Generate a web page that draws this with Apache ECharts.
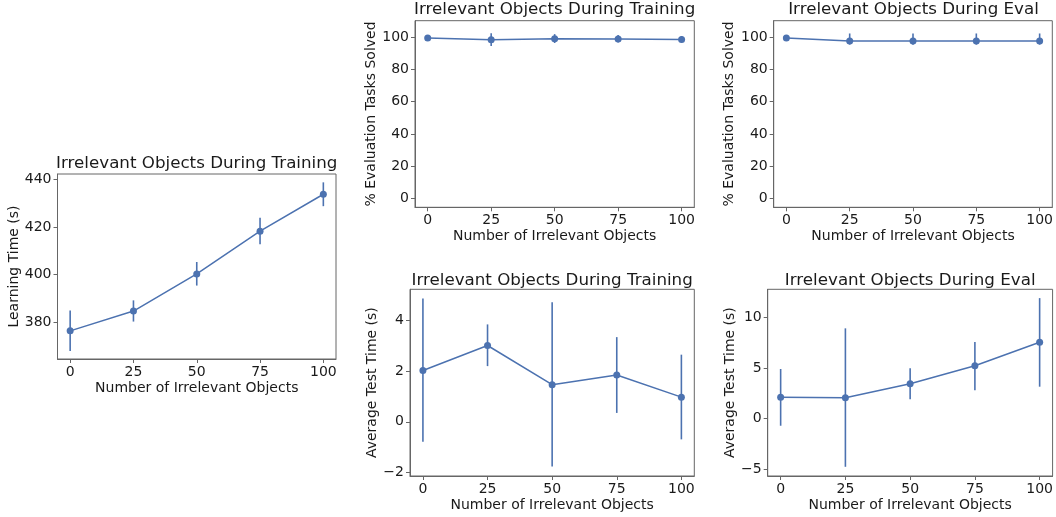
<!DOCTYPE html>
<html><head><meta charset="utf-8">
<script src="https://cdn.jsdelivr.net/npm/echarts@6/dist/echarts.min.js"></script>
<style>html,body{margin:0;padding:0;background:#fff}#c{width:1056px;height:517px}</style>
</head><body><div id="c"></div>
<script>
const xVals = [0, 25, 50, 75, 100];
const xTicks = [0, 25, 50, 75, 100];

const learnMean = [376.4, 384.7, 400.3, 418.2, 433.7];
const learnLo   = [368.0, 380.3, 395.4, 412.7, 428.7];
const learnHi   = [384.9, 389.2, 405.3, 423.8, 438.7];

const solvedTrainMean = [99.4, 98.3, 98.9, 98.8, 98.5];
const solvedTrainLo   = [98.7, 94.4, 96.3, 96.6, 96.7];
const solvedTrainHi   = [100.1, 102.3, 101.8, 101.2, 100.6];

const solvedEvalMean = [99.4, 97.6, 97.6, 97.6, 97.6];
const solvedEvalLo   = [98.7, 95.3, 95.3, 95.3, 95.3];
const solvedEvalHi   = [100.1, 102.2, 102.2, 102.2, 102.2];

const testTrainMean = [2.02, 3.0, 1.46, 1.84, 0.97];
const testTrainLo   = [-0.78, 2.19, -1.76, 0.35, -0.69];
const testTrainHi   = [4.85, 3.83, 4.7, 3.33, 2.64];

const testEvalMean = [2.09, 2.05, 3.43, 5.21, 7.53];
const testEvalLo   = [-0.72, -4.78, 1.89, 2.78, 3.14];
const testEvalHi   = [4.89, 8.91, 4.96, 7.57, 11.9];

const titles = ['Irrelevant Objects During Training', 'Irrelevant Objects During Training',
  'Irrelevant Objects During Eval', 'Irrelevant Objects During Training', 'Irrelevant Objects During Eval'];
const yNames = ['Learning Time (s)', '% Evaluation Tasks Solved', '% Evaluation Tasks Solved',
  'Average Test Time (s)', 'Average Test Time (s)'];
const xName = 'Number of Irrelevant Objects';
const yTicks = [[380, 400, 420, 440], [0, 20, 40, 60, 80, 100], [0, 20, 40, 60, 80, 100],
  [-2, 0, 2, 4], [-5, 0, 5, 10]];
const yRanges = [[364.6, 442.2], [-5.3, 110.1], [-5.3, 110.1], [-2.13, 5.21], [-5.69, 12.77]];

const panels = [
  {mean: learnMean, lo: learnLo, hi: learnHi},
  {mean: solvedTrainMean, lo: solvedTrainLo, hi: solvedTrainHi},
  {mean: solvedEvalMean, lo: solvedEvalLo, hi: solvedEvalHi},
  {mean: testTrainMean, lo: testTrainLo, hi: testTrainHi},
  {mean: testEvalMean, lo: testEvalLo, hi: testEvalHi}
];

// layout
const grids = [
  {left: 57.5, top: 174, width: 278.5, height: 185},
  {left: 415, top: 20.7, width: 279.3, height: 186.6},
  {left: 773.7, top: 20.7, width: 279.6, height: 186.6},
  {left: 410, top: 289.3, width: 284.3, height: 186.7},
  {left: 767.7, top: 289.3, width: 285, height: 186.7}
];
const yGaps = [36, 36, 37, 30.5, 30.5];
const titleTops = [155, 1.5, 1.5, 272, 272];

const FONT = 'DejaVu Sans';
const TXT = '#1a1a1a';
const AX = '#666666';
const BLUE = '#4c72b0';
const fmt = v => String(v).replace('-', '\u2212');

const option = {
  animation: false,
  backgroundColor: '#fff',
  textStyle: {fontFamily: FONT},
  title: grids.map((g, i) => ({
    text: titles[i], left: g.left + g.width / 2, top: titleTops[i], textAlign: 'center', padding: 0,
    textStyle: {fontFamily: FONT, fontSize: 16.7, fontWeight: 'normal', color: TXT}
  })),
  grid: grids.map(g => Object.assign({show: true, borderColor: AX, borderWidth: 1, backgroundColor: 'transparent', containLabel: false}, g)),
  xAxis: grids.map((g, i) => ({
    type: 'value', gridIndex: i, min: -5, max: 105,
    name: xName, nameLocation: 'middle', nameGap: 22,
    nameTextStyle: {fontFamily: FONT, fontSize: 14, color: TXT},
    axisLine: {show: true, onZero: false, lineStyle: {color: AX, width: 1}},
    axisTick: {show: true, length: 4, lineStyle: {color: AX}, customValues: xTicks},
    axisLabel: {fontFamily: FONT, fontSize: 14, color: TXT, margin: 6, customValues: xTicks, formatter: fmt},
    splitLine: {show: false}
  })),
  yAxis: grids.map((g, i) => ({
    type: 'value', gridIndex: i, min: yRanges[i][0], max: yRanges[i][1],
    name: yNames[i], nameLocation: 'middle', nameGap: yGaps[i], nameRotate: 90,
    nameTextStyle: {fontFamily: FONT, fontSize: 14, color: TXT, verticalAlign: 'bottom'},
    axisLine: {show: true, onZero: false, lineStyle: {color: AX, width: 1}},
    axisTick: {show: true, length: 4, lineStyle: {color: AX}, customValues: yTicks[i]},
    axisLabel: {fontFamily: FONT, fontSize: 14, color: TXT, margin: 6, customValues: yTicks[i], formatter: fmt},
    splitLine: {show: false}
  })),
  series: []
};

panels.forEach((p, i) => {
  option.series.push({
    type: 'custom', xAxisIndex: i, yAxisIndex: i, z: 2,
    data: xVals.map((x, k) => [x, p.lo[k], p.hi[k]]),
    renderItem: function (params, api) {
      const a = api.coord([api.value(0), api.value(1)]);
      const b = api.coord([api.value(0), api.value(2)]);
      return {type: 'line', shape: {x1: a[0], y1: a[1], x2: b[0], y2: b[1]},
        style: {stroke: BLUE, lineWidth: 1.6}};
    }
  });
  option.series.push({
    type: 'line', xAxisIndex: i, yAxisIndex: i, z: 3,
    data: xVals.map((x, k) => [x, p.mean[k]]),
    symbol: 'circle', symbolSize: 7,
    lineStyle: {color: BLUE, width: 1.5},
    itemStyle: {color: BLUE, borderWidth: 0}
  });
});

const chart = echarts.init(document.getElementById('c'), null, {renderer: 'canvas'});
chart.setOption(option);
</script></body></html>
